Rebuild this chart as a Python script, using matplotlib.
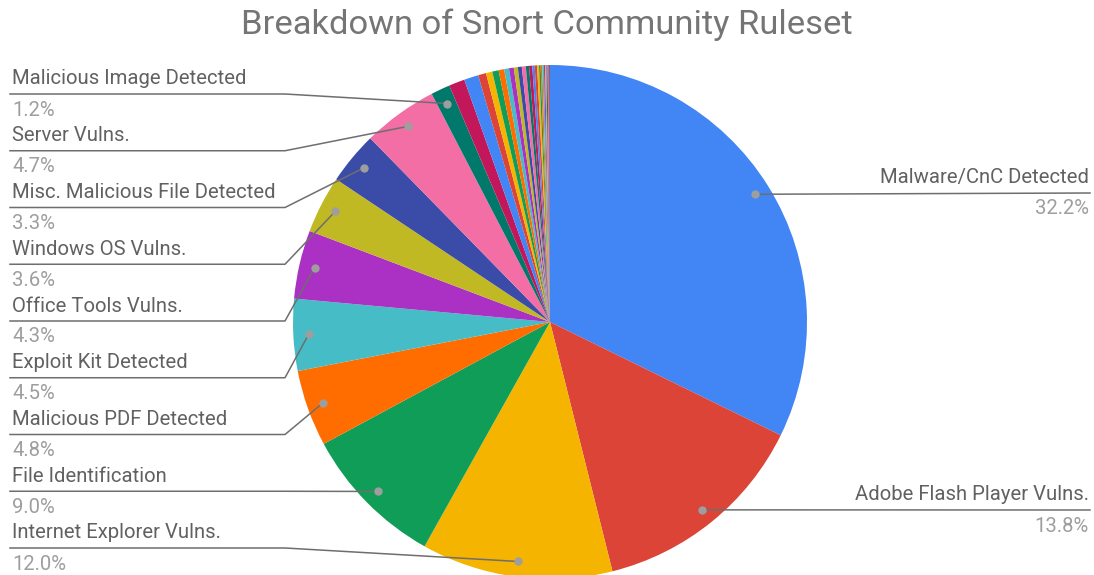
import numpy as np
import matplotlib.pyplot as plt

plt.rcParams['font.family'] = ['Roboto', 'DejaVu Sans']

# Данные
labels = ['Malware/CnC Detected', 'Adobe Flash Player Vulns.', 'Internet Explorer Vulns.',
          'File Identification', 'Malicious PDF Detected', 'Exploit Kit Detected',
          'Office Tools Vulns.', 'Windows OS Vulns.', 'Misc. Malicious File Detected',
          'Server Vulns.', 'Malicious Image Detected']
values = [32.2, 13.8, 12.0, 9.0, 4.8, 4.5, 4.3, 3.6, 3.3, 4.7, 1.2]
# мелкие категории без подписей
small_values = [1.0, 0.9, 0.5, 0.4, 0.4, 0.35, 0.3, 0.3, 0.25, 0.25, 0.25, 0.2, 0.2,
                0.15, 0.15, 0.12, 0.1, 0.1, 0.1, 0.08, 0.08, 0.07, 0.05, 0.05, 0.05]

palette = ['#4285f4', '#db4437', '#f4b400', '#0f9d58', '#ff6d01', '#46bdc6',
           '#ab30c4', '#c1b923', '#3b4ba8', '#f36ea5', '#00796b', '#c2185b']

all_values = values + small_values
colors = [palette[i % len(palette)] for i in range(len(all_values))]

W, H = 1094, 575
fig = plt.figure(figsize=(W / 100, H / 100), dpi=100)
ax = fig.add_axes([0, 0, 1, 1])

cx, cy, r = 550, H - 322, 257
wedges, _ = ax.pie(all_values, colors=colors, startangle=90, counterclock=False,
                   center=(cx, cy), radius=r, frame=True,
                   wedgeprops=dict(linewidth=0))
ax.set_xlim(0, W)
ax.set_ylim(0, H)
ax.set_aspect('equal')
ax.axis('off')

fig.text(0.5, 1 - 25 / H, 'Breakdown of Snort Community Ruleset', ha='center', va='center',
         fontsize=24.8, color='#757575')


def dot_pos(w):
    a = np.deg2rad((w.theta1 + w.theta2) / 2)
    return cx + 0.94 * r * np.cos(a), cy + 0.94 * r * np.sin(a)


name_col, pct_col, line_col = '#616161', '#9e9e9e', '#6e6e6e'
fs = 14.6

# правые подписи
right_lines = {0: 193, 1: 510}
for i, ly in right_lines.items():
    dx, dy = dot_pos(wedges[i])
    yl = H - ly
    ax.plot([dx, 1090], [dy, yl], color=line_col, lw=1.1)
    ax.plot(dx, dy, 'o', color='#9e9e9e', ms=5)
    ax.text(1089, yl + 15, labels[i], ha='right', va='center', fontsize=fs, color=name_col)
    ax.text(1089, yl - 16, f'{values[i]:.1f}%', ha='right', va='center', fontsize=fs, color=pct_col)

# левые подписи
left_order = [10, 9, 8, 7, 6, 5, 4, 3, 2]
for k, i in enumerate(left_order):
    dx, dy = dot_pos(wedges[i])
    yl = H - (94 + 56.75 * k)
    ax.plot([10, 285, dx], [yl, yl, dy], color=line_col, lw=1.1)
    ax.plot(dx, dy, 'o', color='#9e9e9e', ms=5)
    ax.text(12, yl + 15, labels[i], ha='left', va='center', fontsize=fs, color=name_col)
    ax.text(12, yl - 16, f'{values[i]:.1f}%', ha='left', va='center', fontsize=fs, color=pct_col)

fig.savefig('out.png', dpi=100, facecolor='white')
